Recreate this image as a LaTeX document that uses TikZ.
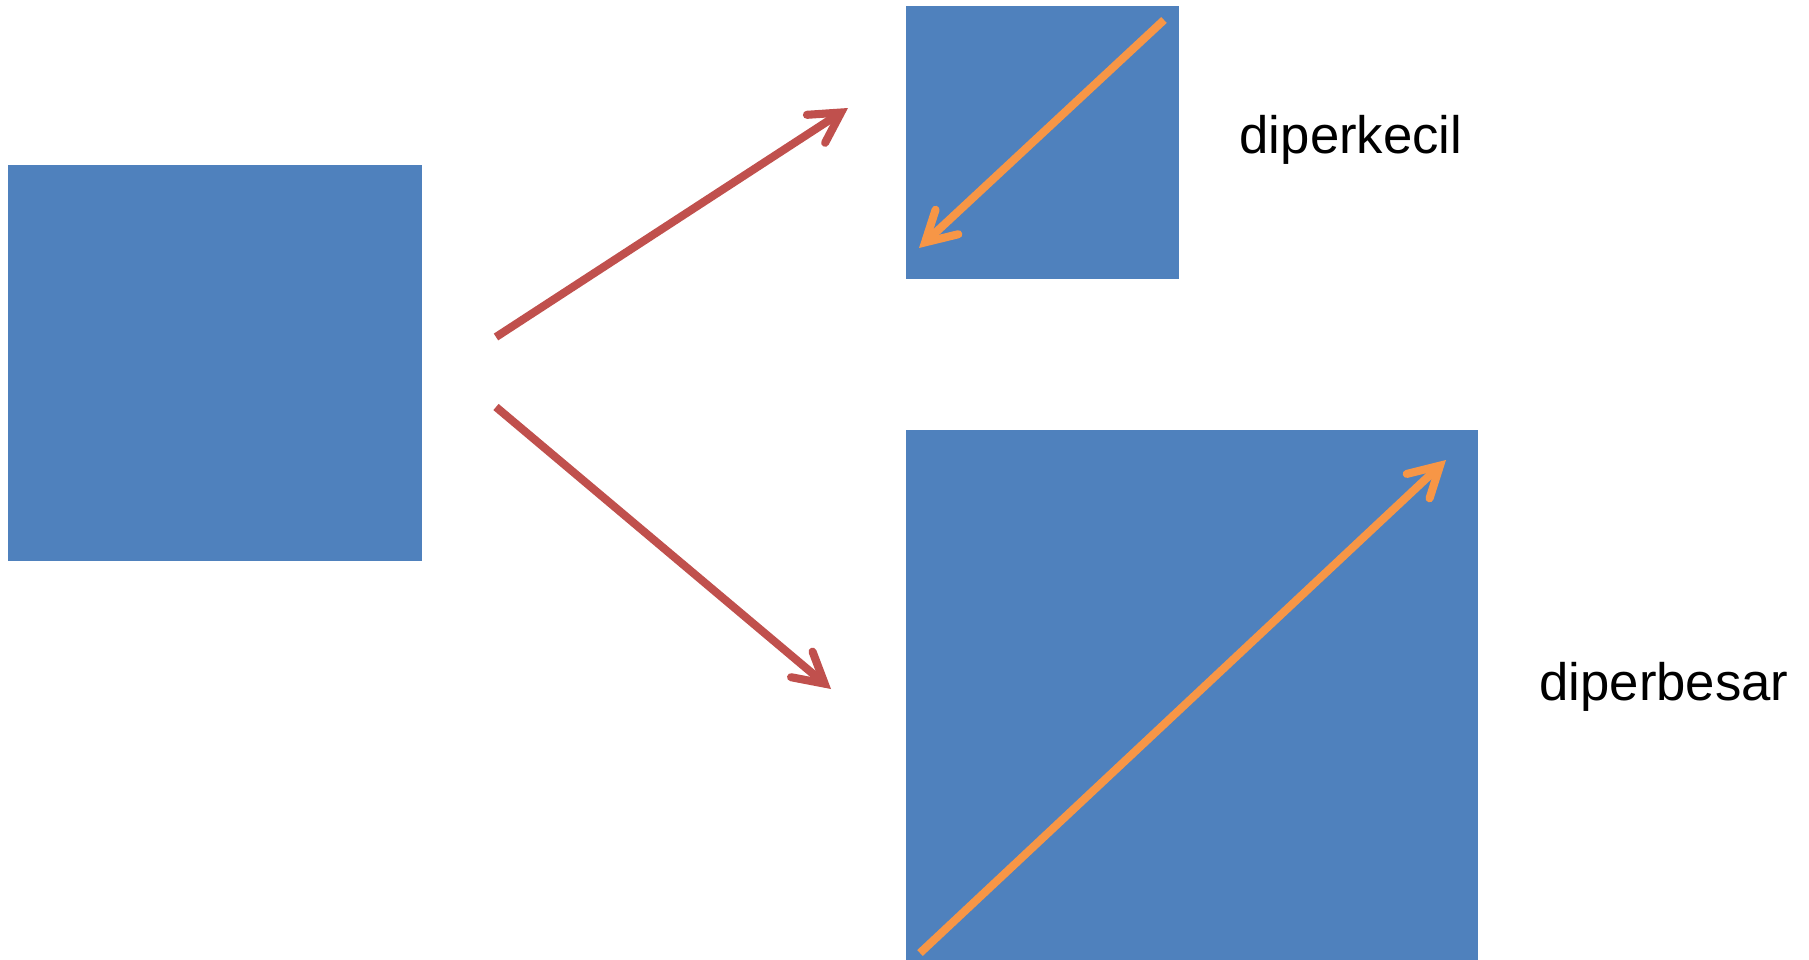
\documentclass[tikz,border=0pt]{standalone}
\usepackage{fontspec}
\setmainfont{Liberation Sans}
\usetikzlibrary{arrows.meta}
\definecolor{sqblue}{HTML}{4F81BD}
\definecolor{arred}{HTML}{C0504D}
\definecolor{arorange}{HTML}{F79646}
\begin{document}
\begin{tikzpicture}[x=0.02cm,y=-0.02cm,
  sq/.style={fill=sqblue,draw=none,inner sep=0pt,outer sep=0pt},
  tipbarb/.style={-{Straight Barb[length=17pt,width=19pt,line cap=round,line join=miter]}},
  redarrow/.style={draw=arred,line width=4.6pt,tipbarb},
  orarrow/.style={draw=arorange,line width=4.6pt,tipbarb},
  lbl/.style={font=\fontsize{30}{36}\selectfont,inner sep=0pt}]
\useasboundingbox (0,0) rectangle (1809,960);
\node[sq,minimum width=414*0.02cm,minimum height=396*0.02cm] (orig) at (215,363) {};
\node[sq,minimum width=273*0.02cm,minimum height=273*0.02cm] (small) at (1042.5,142.5) {};
\node[sq,minimum width=572*0.02cm,minimum height=540*0.02cm,anchor=north west] (big) at (906,430) {};
\coordinate (r1s) at (496,337);
\coordinate (r1e) at (848,108);
\coordinate (r2s) at (496,407);
\coordinate (r2e) at (831,689);
\coordinate (o1s) at (1164,20);
\coordinate (o1e) at (919,248);
\coordinate (o2s) at (920,953);
\coordinate (o2e) at (1446,460);
\draw[redarrow] (r1s) -- (r1e);
\draw[redarrow] (r2s) -- (r2e);
\draw[orarrow] (o1s) -- (o1e);
\draw[orarrow] (o2s) -- (o2e);
\node[lbl] (t1) at (1351,140) {diperkecil};
\node[lbl] (t2) at (1664,687) {diperbesar};
\end{tikzpicture}
\end{document}
